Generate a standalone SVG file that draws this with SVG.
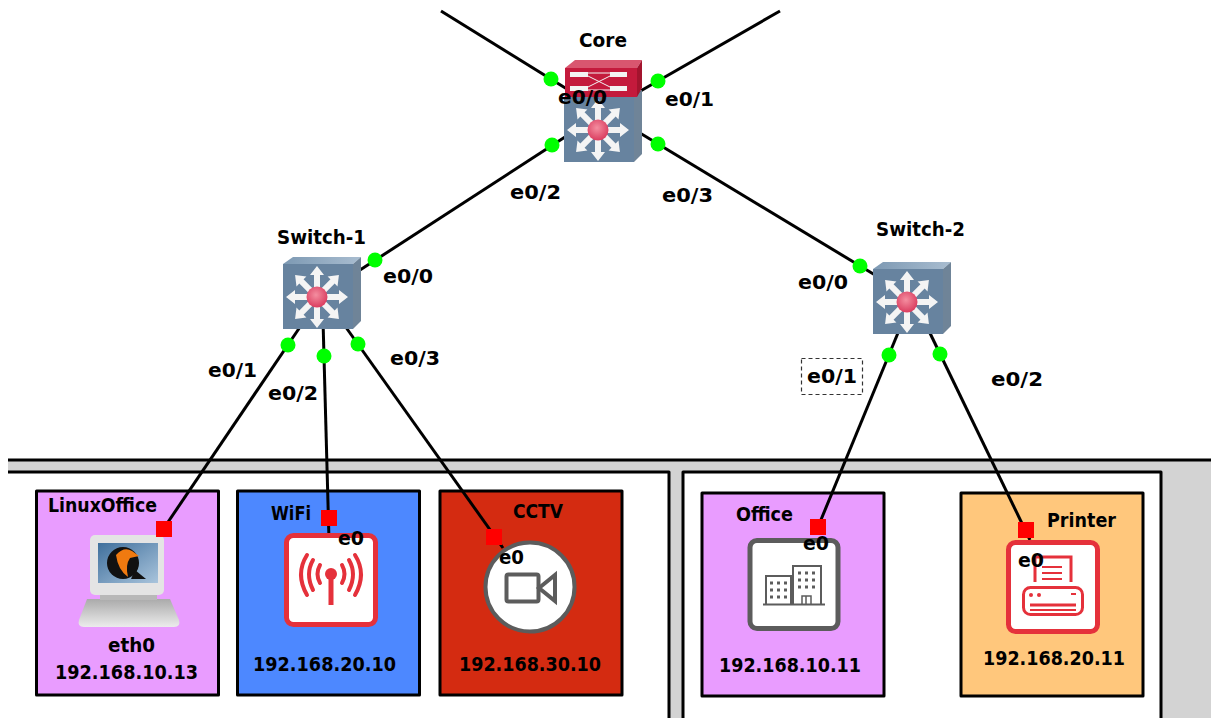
<svg xmlns="http://www.w3.org/2000/svg" width="1211" height="718" viewBox="0 0 1211 718">
<style>
text{font-family:"DejaVu Sans","Liberation Sans",sans-serif;font-weight:700;font-size:19.500px;fill:#000;stroke:none}
.zone{stroke:#000;stroke-width:3;stroke-linejoin:round}
.link{stroke:#000;stroke-width:3;fill:none}
.up{fill:#00ff00}
.down{fill:#ff0000}
.ired{fill:none;stroke:#e5313b;stroke-linecap:round}
.igray{fill:none;stroke:#5c5c5c}
</style>
<defs>
<radialGradient id="led" cx="45%" cy="40%" r="65%"><stop offset="0" stop-color="#f48ea0"/><stop offset="1" stop-color="#d8365a"/></radialGradient>
<linearGradient id="top" x1="0" x2="1" y1="0" y2="0"><stop offset="0" stop-color="#7d99b3"/><stop offset="1" stop-color="#a9bdd0"/></linearGradient>
<linearGradient id="base" x1="0" x2="0" y1="0" y2="1"><stop offset="0" stop-color="#aaaaaa"/><stop offset="1" stop-color="#ececec"/></linearGradient>
<linearGradient id="screen" x1="0" x2="1" y1="0" y2="1"><stop offset="0" stop-color="#3f6f9c"/><stop offset="1" stop-color="#a9c4dc"/></linearGradient>
<path id="arrow" d="M-3-8V-22H-7L0-31L7-22H3V-8Z" fill="#f4f4f4"/>
<g id="arrows">
<use href="#arrow"/><use href="#arrow" transform="rotate(45)"/><use href="#arrow" transform="rotate(90)"/><use href="#arrow" transform="rotate(135)"/><use href="#arrow" transform="rotate(180)"/><use href="#arrow" transform="rotate(225)"/><use href="#arrow" transform="rotate(270)"/><use href="#arrow" transform="rotate(315)"/>
<circle r="10.500" fill="url(#led)"/>
</g>
<g id="switch">
<path d="M-34-33L-24-40H44L36-33Z" fill="url(#top)"/>
<path d="M36-33L44-40V24L36 32Z" fill="#6f8498"/>
<rect x="-34" y="-33" width="70" height="65" fill="#67839f"/>
<use href="#arrows"/>
</g>
</defs>

<g id="zones">
<rect x="8" y="460" width="1210" height="270" fill="#d3d3d3" stroke="none"/>
<rect x="0" y="472" width="669" height="260" fill="#fff" stroke="none"/>
<path d="M8 460H1211M8 472H669V718" class="zone" fill="none"/>
<rect x="683" y="472" width="478" height="260" fill="#fff" class="zone"/>
<rect x="36.500" y="491" width="182" height="204" fill="#e99cff" class="zone"/>
<rect x="237.500" y="491" width="182" height="204" fill="#4d88ff" class="zone"/>
<rect x="440" y="491" width="182" height="204" fill="#d42b11" class="zone"/>
<rect x="702" y="493" width="182" height="203" fill="#e99cff" class="zone"/>
<rect x="961" y="493" width="182" height="203" fill="#ffc77c" class="zone"/>
</g>

<g id="connectors">
<path class="link" d="M441 11L575 94"/>
<path class="link" d="M780 11L630 97"/>
<path class="link" d="M575 130.500L350 276.500"/>
<path class="link" d="M630 127L880 278"/>
<path class="link" d="M300 327L164 528"/>
<path class="link" d="M323 320L329 540"/>
<path class="link" d="M345 326L503 548"/>
<path class="link" d="M900 328L818 527"/>
<path class="link" d="M928 329L1030 540"/>
</g>

<g id="node-core">
<use href="#switch" x="598" y="130"/>
<path d="M565 68L575 60H642L637 68Z" fill="#d9566f"/>
<path d="M637 68L642 60V88L637 97Z" fill="#a3142e"/>
<rect x="565" y="68" width="72" height="29" fill="#c41a3c"/>
<path d="M570 72H588V77H570ZM610 72H627V77H610ZM570 86H588V91H570ZM610 86H627V91H610Z" fill="#f3f3f3"/>
<path d="M588 73H610M588 90H610M588 76L610 87M588 87L610 76" stroke="#f3f3f3" stroke-width="1" fill="none"/>
<text x="579" y="47" textLength="48" lengthAdjust="spacingAndGlyphs">Core</text>
</g>
<g id="node-switch-1">
<use href="#switch" x="317" y="297"/>
<text x="277" y="244" textLength="89" lengthAdjust="spacingAndGlyphs">Switch-1</text>
</g>
<g id="node-switch-2">
<use href="#switch" x="907" y="302"/>
<text x="876" y="236" textLength="89" lengthAdjust="spacingAndGlyphs">Switch-2</text>
</g>

<g id="node-linuxoffice">
<path d="M87 599H170L179 620Q181 627 174 627H84Q77 627 79 620Z" fill="url(#base)"/>
<rect x="100" y="590" width="57" height="10" fill="#b8b8b8"/>
<rect x="90" y="535" width="74" height="60" rx="5" fill="#e4e4e4"/>
<rect x="98" y="543" width="60" height="40" fill="url(#screen)"/>
<circle cx="123" cy="563" r="16" fill="#111"/>
<path d="M131 579L146 579L135 570Z" fill="#111"/>
<path d="M116 555Q124 546 132 551L139 556L130 558Q125 565 128 577Q118 570 116 555Z" fill="#f07a10"/>
<text x="48" y="512" textLength="109" lengthAdjust="spacingAndGlyphs">LinuxOffice</text>
<text x="108" y="652" textLength="47" lengthAdjust="spacingAndGlyphs">eth0</text>
<text x="55" y="679" textLength="143" lengthAdjust="spacingAndGlyphs">192.168.10.13</text>
</g>

<g id="node-wifi">
<rect x="286.500" y="535.500" width="89" height="89" rx="7" fill="#fff" stroke="#e5313b" stroke-width="5"/>
<circle cx="331" cy="574" r="6" fill="#e5313b"/>
<path d="M331 574V605" stroke="#e5313b" stroke-width="5" fill="none"/>
<path d="M320 565Q315 574 320 583M342 565Q347 574 342 583" class="ired" stroke-width="4"/>
<path d="M313 560Q305 574 313 590M349 560Q357 574 349 590" class="ired" stroke-width="4"/>
<path d="M307 555Q295 574 307 595M355 555Q367 574 355 595" class="ired" stroke-width="4"/>
<text x="271" y="520" textLength="40" lengthAdjust="spacingAndGlyphs">WiFi</text>
<text x="338" y="545" textLength="26" lengthAdjust="spacingAndGlyphs">e0</text>
<text x="253" y="671" textLength="143" lengthAdjust="spacingAndGlyphs">192.168.20.10</text>
</g>

<g id="node-cctv">
<circle cx="530" cy="587" r="44.500" fill="#fff" stroke="#5c5c5c" stroke-width="4"/>
<rect x="506.500" y="574.500" width="32" height="27" rx="2" class="igray" stroke-width="4"/>
<path d="M539 588L555 575V601Z" class="igray" stroke-width="4"/>
<text x="513" y="518" textLength="50" lengthAdjust="spacingAndGlyphs">CCTV</text>
<text x="499" y="564" textLength="25" lengthAdjust="spacingAndGlyphs">e0</text>
<text x="459" y="671" textLength="142" lengthAdjust="spacingAndGlyphs">192.168.30.10</text>
</g>

<g id="node-office">
<rect x="750" y="540.500" width="88" height="88" rx="7" fill="#fff" stroke="#5c5c5c" stroke-width="5"/>
<path d="M766 604V576H791V604M793 604V566H821V604M763 604.500H825" fill="none" stroke="#5c5c5c" stroke-width="2"/>
<path d="M770 583h3m4 0h3m4 0h3M770 590h3m4 0h3m4 0h3M770 597h3m4 0h3m4 0h3M798 573h3m4 0h3m4 0h3M798 580h3m4 0h3m4 0h3M798 587h3m4 0h3m4 0h3" stroke="#5c5c5c" stroke-width="3" fill="none"/>
<path d="M802 604V596H811V604M806 596V604" stroke="#5c5c5c" stroke-width="1.500" fill="none"/>
<text x="736" y="521" textLength="57" lengthAdjust="spacingAndGlyphs">Office</text>
<text x="803" y="550" textLength="26" lengthAdjust="spacingAndGlyphs">e0</text>
<text x="719" y="672" textLength="142" lengthAdjust="spacingAndGlyphs">192.168.10.11</text>
</g>

<g id="node-printer">
<rect x="1008.500" y="542.500" width="89" height="89" rx="7" fill="#fff" stroke="#e5313b" stroke-width="5"/>
<path d="M1035 582V557H1071V582" fill="none" stroke="#e5313b" stroke-width="3"/>
<path d="M1042 567H1062M1042 573H1062M1042 579H1062" stroke="#e5313b" stroke-width="2" fill="none"/>
<rect x="1023.500" y="587.500" width="59" height="27" rx="7" fill="#fff" stroke="#e5313b" stroke-width="3"/>
<path d="M1030 605H1076" stroke="#e5313b" stroke-width="3"/>
<path d="M1030 610H1076M1071 594H1076" stroke="#e5313b" stroke-width="2"/>
<circle cx="1031" cy="595" r="2" fill="#e5313b"/><circle cx="1039" cy="595" r="2" fill="#e5313b"/>
<text x="1047" y="527" textLength="69" lengthAdjust="spacingAndGlyphs">Printer</text>
<text x="1018" y="567" textLength="26" lengthAdjust="spacingAndGlyphs">e0</text>
<text x="983" y="665" textLength="142" lengthAdjust="spacingAndGlyphs">192.168.20.11</text>
</g>

<g id="ports">
<circle class="up" cx="551" cy="79" r="7.500"/><circle class="up" cx="658" cy="81" r="7.500"/>
<circle class="up" cx="552" cy="145" r="7.500"/><circle class="up" cx="658" cy="144" r="7.500"/>
<circle class="up" cx="375" cy="260" r="7.500"/><circle class="up" cx="860" cy="266" r="7.500"/>
<circle class="up" cx="288" cy="345" r="7.500"/><circle class="up" cx="324" cy="356" r="7.500"/><circle class="up" cx="358" cy="344" r="7.500"/>
<circle class="up" cx="889" cy="355" r="7.500"/><circle class="up" cx="940" cy="354" r="7.500"/>
<rect class="down" x="156" y="521" width="16" height="16"/><rect class="down" x="321" y="510" width="16" height="16"/>
<rect class="down" x="486" y="529" width="16" height="16"/><rect class="down" x="810" y="519" width="16" height="16"/>
<rect class="down" x="1018" y="522" width="16" height="16"/>
</g>

<g id="link-labels">
<text x="558" y="104" textLength="49" lengthAdjust="spacingAndGlyphs">e0/0</text>
<text x="665" y="106" textLength="49" lengthAdjust="spacingAndGlyphs">e0/1</text>
<text x="510" y="199" textLength="51" lengthAdjust="spacingAndGlyphs">e0/2</text>
<text x="662" y="202" textLength="51" lengthAdjust="spacingAndGlyphs">e0/3</text>
<text x="383" y="283" textLength="50" lengthAdjust="spacingAndGlyphs">e0/0</text>
<text x="208" y="377" textLength="49" lengthAdjust="spacingAndGlyphs">e0/1</text>
<text x="268" y="400" textLength="50" lengthAdjust="spacingAndGlyphs">e0/2</text>
<text x="390" y="365" textLength="50" lengthAdjust="spacingAndGlyphs">e0/3</text>
<text x="798" y="289" textLength="50" lengthAdjust="spacingAndGlyphs">e0/0</text>
<rect x="801.500" y="358.500" width="61" height="36" fill="#fff" stroke="#333" stroke-width="1.200" stroke-dasharray="4 3"/>
<text x="807" y="383" textLength="50" lengthAdjust="spacingAndGlyphs">e0/1</text>
<text x="991" y="386" textLength="52" lengthAdjust="spacingAndGlyphs">e0/2</text>
</g>
</svg>
